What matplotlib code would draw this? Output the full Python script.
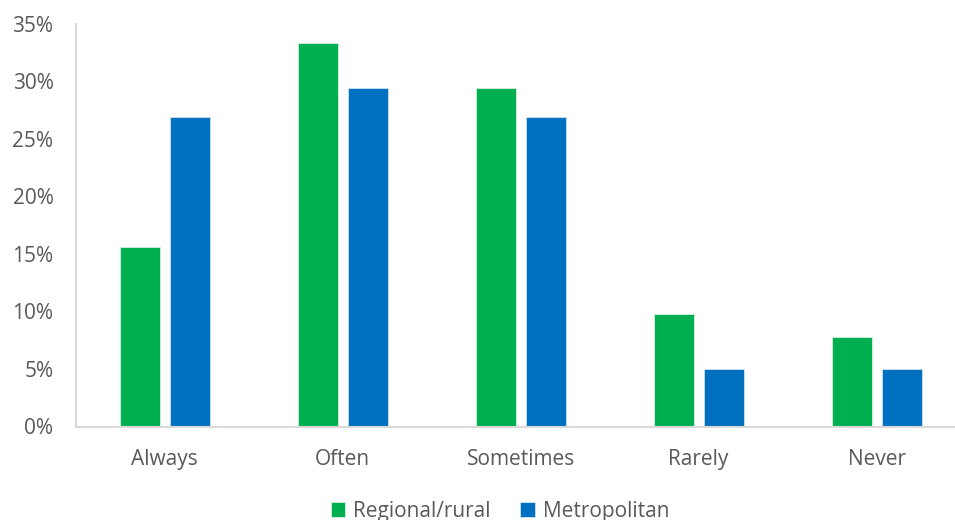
import matplotlib
matplotlib.use("Agg")
import matplotlib.pyplot as plt
from matplotlib.ticker import FuncFormatter
import numpy as np

categories = ["Always", "Often", "Sometimes", "Rarely", "Never"]
regional_rural = [15.6, 33.3, 29.4, 9.8, 7.8]
metropolitan = [26.9, 29.4, 26.9, 5.0, 5.0]
series_names = ["Regional/rural", "Metropolitan"]
y_ticks = [0, 5, 10, 15, 20, 25, 30, 35]

GREEN = "#00B050"
BLUE = "#0070C0"
TEXT = "#595959"
AXIS = "#D9D9D9"

plt.rcParams["font.family"] = ["Open Sans", "DejaVu Sans"]

fig = plt.figure(figsize=(9.55, 5.2), dpi=100)
W, H = 955, 520
left_px, right_px, top_px, bottom_px = 75.7, 965.5, 23.5, 426.5
ax = fig.add_axes([left_px / W, 1 - bottom_px / H,
                   (right_px - left_px) / W, (bottom_px - top_px) / H])

x = np.arange(len(categories))
bw = 40 / 178
off = 25 / 178
ax.bar(x - off, regional_rural, width=bw, color=GREEN, edgecolor="#d8f0e0",
       linewidth=0.6, label=series_names[0], zorder=2)
ax.bar(x + off, metropolitan, width=bw, color=BLUE, edgecolor="#d0e2f2",
       linewidth=0.6, label=series_names[1], zorder=2)

ax.set_xlim(-0.5, len(categories) - 0.5)
ax.set_ylim(0, 35)
ax.set_yticks(y_ticks)
ax.yaxis.set_major_formatter(FuncFormatter(lambda v, p: f"{v:.0f}%"))
ax.set_xticks(x)
ax.set_xticklabels(categories)

for s in ["top", "right"]:
    ax.spines[s].set_visible(False)
for s in ["left", "bottom"]:
    ax.spines[s].set_color(AXIS)
    ax.spines[s].set_linewidth(1.5)
ax.tick_params(axis="both", length=0, labelsize=15, colors=TEXT)
ax.tick_params(axis="x", pad=16)
ax.tick_params(axis="y", pad=16)

fig.legend(loc="center", bbox_to_anchor=(500 / W, 1 - 511 / H), ncol=2,
           frameon=False, fontsize=15, labelcolor=TEXT, handlelength=0.7,
           handleheight=0.7, handletextpad=0.4, columnspacing=1.4,
           borderaxespad=0)

fig.savefig("out.png", dpi=100)
